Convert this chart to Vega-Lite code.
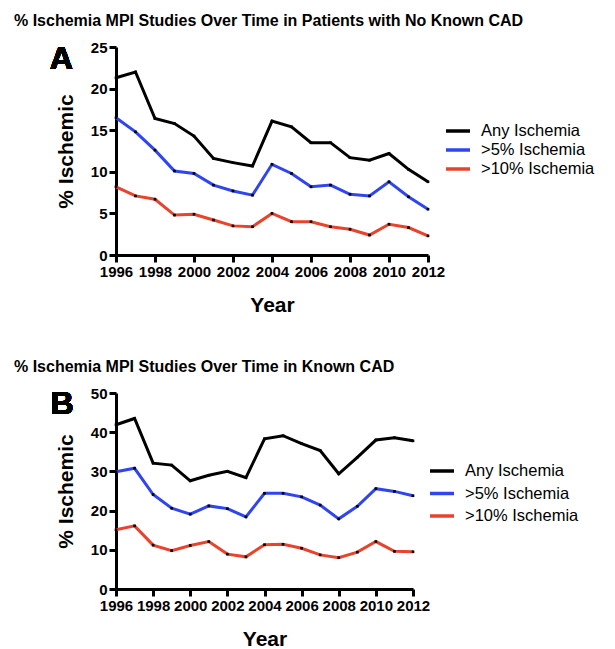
{
  "$schema": "https://vega.github.io/schema/vega-lite/v6.json",
  "padding": {"left": 14, "top": 13, "right": 5, "bottom": 5},
  "spacing": 44,
  "resolve": {"scale": {"color": "independent"}, "legend": {"color": "independent"}},
  "config": {
    "font": "Liberation Sans",
    "view": {"stroke": null},
    "axis": {
      "domainColor": "black", "domainWidth": 3, "tickColor": "black", "tickWidth": 3, "tickSize": 7,
      "labelFontSize": 15, "labelFontWeight": "bold", "labelColor": "black", "labelPadding": 2, "labelOverlap": false,
      "titleFontSize": 21, "titleFontWeight": "bold", "titleColor": "black", "grid": false
    },
    "legend": {
      "orient": "none", "title": null, "symbolType": "M-1.5,0H1.5", "symbolStrokeWidth": 3.5, "symbolSize": 256,
      "labelFontSize": 16.5, "labelColor": "black", "labelFont": "Liberation Sans", "labelOffset": 13
    }
  },
  "datasets": {
    "A": [
      {"year": 1996, "series": "Any Ischemia", "value": 21.3}, {"year": 1997, "series": "Any Ischemia", "value": 22.0},
      {"year": 1998, "series": "Any Ischemia", "value": 16.4}, {"year": 1999, "series": "Any Ischemia", "value": 15.8},
      {"year": 2000, "series": "Any Ischemia", "value": 14.3}, {"year": 2001, "series": "Any Ischemia", "value": 11.6},
      {"year": 2002, "series": "Any Ischemia", "value": 11.1}, {"year": 2003, "series": "Any Ischemia", "value": 10.7},
      {"year": 2004, "series": "Any Ischemia", "value": 16.1}, {"year": 2005, "series": "Any Ischemia", "value": 15.4},
      {"year": 2006, "series": "Any Ischemia", "value": 13.5}, {"year": 2007, "series": "Any Ischemia", "value": 13.5},
      {"year": 2008, "series": "Any Ischemia", "value": 11.7}, {"year": 2009, "series": "Any Ischemia", "value": 11.4},
      {"year": 2010, "series": "Any Ischemia", "value": 12.2}, {"year": 2011, "series": "Any Ischemia", "value": 10.3},
      {"year": 2012, "series": "Any Ischemia", "value": 8.8},
      {"year": 1996, "series": ">5% Ischemia", "value": 16.5}, {"year": 1997, "series": ">5% Ischemia", "value": 14.8},
      {"year": 1998, "series": ">5% Ischemia", "value": 12.6}, {"year": 1999, "series": ">5% Ischemia", "value": 10.1},
      {"year": 2000, "series": ">5% Ischemia", "value": 9.8}, {"year": 2001, "series": ">5% Ischemia", "value": 8.4},
      {"year": 2002, "series": ">5% Ischemia", "value": 7.7}, {"year": 2003, "series": ">5% Ischemia", "value": 7.2},
      {"year": 2004, "series": ">5% Ischemia", "value": 10.9}, {"year": 2005, "series": ">5% Ischemia", "value": 9.8},
      {"year": 2006, "series": ">5% Ischemia", "value": 8.2}, {"year": 2007, "series": ">5% Ischemia", "value": 8.4},
      {"year": 2008, "series": ">5% Ischemia", "value": 7.3}, {"year": 2009, "series": ">5% Ischemia", "value": 7.1},
      {"year": 2010, "series": ">5% Ischemia", "value": 8.8}, {"year": 2011, "series": ">5% Ischemia", "value": 7.0},
      {"year": 2012, "series": ">5% Ischemia", "value": 5.5},
      {"year": 1996, "series": ">10% Ischemia", "value": 8.2}, {"year": 1997, "series": ">10% Ischemia", "value": 7.1},
      {"year": 1998, "series": ">10% Ischemia", "value": 6.7}, {"year": 1999, "series": ">10% Ischemia", "value": 4.8},
      {"year": 2000, "series": ">10% Ischemia", "value": 4.9}, {"year": 2001, "series": ">10% Ischemia", "value": 4.2},
      {"year": 2002, "series": ">10% Ischemia", "value": 3.5}, {"year": 2003, "series": ">10% Ischemia", "value": 3.4},
      {"year": 2004, "series": ">10% Ischemia", "value": 5.0}, {"year": 2005, "series": ">10% Ischemia", "value": 4.0},
      {"year": 2006, "series": ">10% Ischemia", "value": 4.0}, {"year": 2007, "series": ">10% Ischemia", "value": 3.4},
      {"year": 2008, "series": ">10% Ischemia", "value": 3.1}, {"year": 2009, "series": ">10% Ischemia", "value": 2.4},
      {"year": 2010, "series": ">10% Ischemia", "value": 3.7}, {"year": 2011, "series": ">10% Ischemia", "value": 3.3},
      {"year": 2012, "series": ">10% Ischemia", "value": 2.3}
    ],
    "B": [
      {"year": 1996, "series": "Any Ischemia", "value": 41.9}, {"year": 1997, "series": "Any Ischemia", "value": 43.5},
      {"year": 1998, "series": "Any Ischemia", "value": 32.1}, {"year": 1999, "series": "Any Ischemia", "value": 31.6},
      {"year": 2000, "series": "Any Ischemia", "value": 27.6}, {"year": 2001, "series": "Any Ischemia", "value": 29.0},
      {"year": 2002, "series": "Any Ischemia", "value": 30.0}, {"year": 2003, "series": "Any Ischemia", "value": 28.4},
      {"year": 2004, "series": "Any Ischemia", "value": 38.3}, {"year": 2005, "series": "Any Ischemia", "value": 39.1},
      {"year": 2006, "series": "Any Ischemia", "value": 37.1}, {"year": 2007, "series": "Any Ischemia", "value": 35.3},
      {"year": 2008, "series": "Any Ischemia", "value": 29.4}, {"year": 2009, "series": "Any Ischemia", "value": 33.6},
      {"year": 2010, "series": "Any Ischemia", "value": 38.0}, {"year": 2011, "series": "Any Ischemia", "value": 38.6},
      {"year": 2012, "series": "Any Ischemia", "value": 37.8},
      {"year": 1996, "series": ">5% Ischemia", "value": 29.9}, {"year": 1997, "series": ">5% Ischemia", "value": 30.8},
      {"year": 1998, "series": ">5% Ischemia", "value": 24.1}, {"year": 1999, "series": ">5% Ischemia", "value": 20.6},
      {"year": 2000, "series": ">5% Ischemia", "value": 19.1}, {"year": 2001, "series": ">5% Ischemia", "value": 21.2},
      {"year": 2002, "series": ">5% Ischemia", "value": 20.5}, {"year": 2003, "series": ">5% Ischemia", "value": 18.4},
      {"year": 2004, "series": ">5% Ischemia", "value": 24.4}, {"year": 2005, "series": ">5% Ischemia", "value": 24.4},
      {"year": 2006, "series": ">5% Ischemia", "value": 23.5}, {"year": 2007, "series": ">5% Ischemia", "value": 21.4},
      {"year": 2008, "series": ">5% Ischemia", "value": 17.9}, {"year": 2009, "series": ">5% Ischemia", "value": 21.1},
      {"year": 2010, "series": ">5% Ischemia", "value": 25.6}, {"year": 2011, "series": ">5% Ischemia", "value": 24.9},
      {"year": 2012, "series": ">5% Ischemia", "value": 23.8},
      {"year": 1996, "series": ">10% Ischemia", "value": 15.1}, {"year": 1997, "series": ">10% Ischemia", "value": 16.1},
      {"year": 1998, "series": ">10% Ischemia", "value": 11.2}, {"year": 1999, "series": ">10% Ischemia", "value": 9.8},
      {"year": 2000, "series": ">10% Ischemia", "value": 11.1}, {"year": 2001, "series": ">10% Ischemia", "value": 12.1},
      {"year": 2002, "series": ">10% Ischemia", "value": 8.9}, {"year": 2003, "series": ">10% Ischemia", "value": 8.2},
      {"year": 2004, "series": ">10% Ischemia", "value": 11.3}, {"year": 2005, "series": ">10% Ischemia", "value": 11.4},
      {"year": 2006, "series": ">10% Ischemia", "value": 10.4}, {"year": 2007, "series": ">10% Ischemia", "value": 8.7},
      {"year": 2008, "series": ">10% Ischemia", "value": 8.0}, {"year": 2009, "series": ">10% Ischemia", "value": 9.4},
      {"year": 2010, "series": ">10% Ischemia", "value": 12.1}, {"year": 2011, "series": ">10% Ischemia", "value": 9.6},
      {"year": 2012, "series": ">10% Ischemia", "value": 9.5}
    ]
  },
  "vconcat": [
    {
      "width": 312, "height": 208,
      "title": {"text": "% Ischemia MPI Studies Over Time in Patients with No Known CAD", "anchor": "start", "frame": "group", "fontSize": 16, "fontWeight": "bold", "color": "black", "dx": -102, "offset": 11},
      "data": {"name": "A"},
      "encoding": {
        "x": {"field": "year", "type": "quantitative", "scale": {"domain": [1996, 2012], "nice": false, "zero": false},
              "axis": {"values": [1996, 1998, 2000, 2002, 2004, 2006, 2008, 2010, 2012], "format": "d", "title": "Year", "titlePadding": 15, "labelOverlap": false, "labelFlush": false, "labelBound": false}},
        "y": {"field": "value", "type": "quantitative", "scale": {"domain": [0, 25], "nice": false},
              "axis": {"values": [0, 5, 10, 15, 20, 25], "title": "% Ischemic", "titlePadding": 14, "labelOverlap": false, "labelFlush": false, "labelBound": false}}
      },
      "layer": [
        {
          "mark": {"type": "line", "strokeWidth": 3},
          "encoding": {
            "color": {"field": "series", "type": "nominal",
                      "scale": {"domain": ["Any Ischemia", ">5% Ischemia", ">10% Ischemia"], "range": ["#000000", "#2f45f0", "#e8432c"]},
                      "legend": {"legendX": 332, "legendY": 74, "rowPadding": 0}}
          }
        },
        {
          "mark": {"type": "point", "shape": "square", "filled": true, "color": "black", "size": 7, "opacity": 1},
          "encoding": {"detail": {"field": "series"}}
        },
        {
          "mark": {"type": "text", "text": "A", "fontSize": 32, "fontWeight": "bold", "color": "black", "align": "center", "baseline": "middle"},
          "encoding": {
            "x": {"datum": 1993.2, "type": "quantitative",
                  "axis": {"values": [1996, 1998, 2000, 2002, 2004, 2006, 2008, 2010, 2012], "format": "d", "title": "Year", "titlePadding": 15, "labelOverlap": false, "labelFlush": false, "labelBound": false}},
            "y": {"datum": 23.6, "type": "quantitative",
                  "axis": {"values": [0, 5, 10, 15, 20, 25], "title": "% Ischemic", "titlePadding": 14, "labelOverlap": false, "labelFlush": false, "labelBound": false}}
          }
        }
      ]
    },
    {
      "width": 297, "height": 196,
      "title": {"text": "% Ischemia MPI Studies Over Time in Known CAD", "anchor": "start", "frame": "group", "fontSize": 16, "fontWeight": "bold", "color": "black", "dx": -102, "offset": 11},
      "data": {"name": "B"},
      "encoding": {
        "x": {"field": "year", "type": "quantitative", "scale": {"domain": [1996, 2012], "nice": false, "zero": false},
              "axis": {"values": [1996, 1998, 2000, 2002, 2004, 2006, 2008, 2010, 2012], "format": "d", "title": "Year", "titlePadding": 15, "labelOverlap": false, "labelFlush": false, "labelBound": false}},
        "y": {"field": "value", "type": "quantitative", "scale": {"domain": [0, 50], "nice": false},
              "axis": {"values": [0, 10, 20, 30, 40, 50], "title": "% Ischemic", "titlePadding": 14, "labelOverlap": false, "labelFlush": false, "labelBound": false}}
      },
      "layer": [
        {
          "mark": {"type": "line", "strokeWidth": 3},
          "encoding": {
            "color": {"field": "series", "type": "nominal",
                      "scale": {"domain": ["Any Ischemia", ">5% Ischemia", ">10% Ischemia"], "range": ["#000000", "#2f45f0", "#e8432c"]},
                      "legend": {"legendX": 316, "legendY": 68, "rowPadding": 3.5}}
          }
        },
        {
          "mark": {"type": "point", "shape": "square", "filled": true, "color": "black", "size": 7, "opacity": 1},
          "encoding": {"detail": {"field": "series"}}
        },
        {
          "mark": {"type": "text", "text": "B", "fontSize": 32, "fontWeight": "bold", "color": "black", "align": "center", "baseline": "middle"},
          "encoding": {
            "x": {"datum": 1993.1, "type": "quantitative",
                  "axis": {"values": [1996, 1998, 2000, 2002, 2004, 2006, 2008, 2010, 2012], "format": "d", "title": "Year", "titlePadding": 15, "labelOverlap": false, "labelFlush": false, "labelBound": false}},
            "y": {"datum": 47.2, "type": "quantitative",
                  "axis": {"values": [0, 10, 20, 30, 40, 50], "title": "% Ischemic", "titlePadding": 14, "labelOverlap": false, "labelFlush": false, "labelBound": false}}
          }
        }
      ]
    }
  ]
}
